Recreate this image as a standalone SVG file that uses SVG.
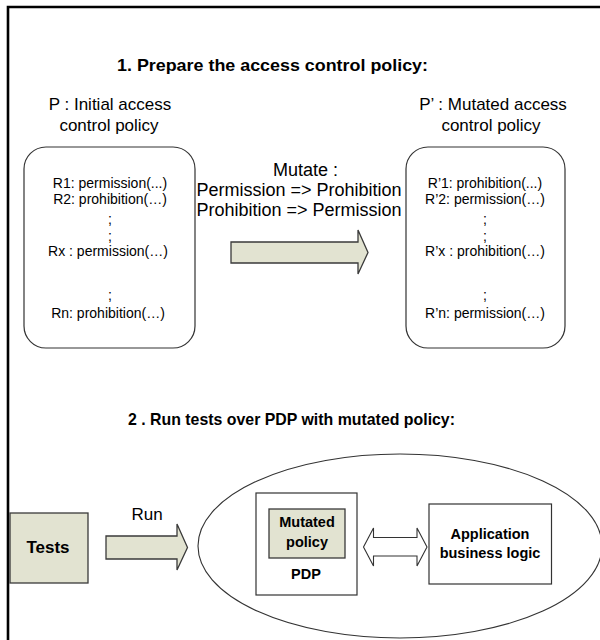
<svg xmlns="http://www.w3.org/2000/svg" width="600" height="640" viewBox="0 0 600 640">
<style>
text{font-family:"Liberation Sans",Arial,sans-serif;fill:#000}
.t{font-size:17px;font-weight:bold}
.c{font-size:17px;text-anchor:middle}
.m{font-size:18px}
.r{font-size:14px;text-anchor:middle}
.b{font-size:14.5px;font-weight:bold;text-anchor:middle}
.box{fill:#fff;stroke:#333;stroke-width:1.2}
.fill{fill:#e2e3d1;stroke:#3a3a3a;stroke-width:1.3}
.arr{fill:#e2e3d1;stroke:#3a3a3a;stroke-width:1.3;stroke-linejoin:miter}
.darr{fill:#fff;stroke:#333;stroke-width:1.1}
</style>
<rect width="600" height="640" fill="#fff"/>
<path d="M8,640 V7 H600" fill="none" stroke="#000" stroke-width="2.6"/>

<text class="t" x="117" y="71" textLength="311" lengthAdjust="spacingAndGlyphs">1. Prepare the access control policy:</text>

<g id="initial-policy">
<text class="c" x="110" y="110">P : Initial access</text>
<text class="c" x="109" y="131">control policy</text>
<rect class="box" x="24" y="147" width="171" height="201" rx="22"/>
<text class="r" x="110" y="188">R1: permission(...)</text>
<text class="r" x="110" y="204">R2: prohibition(…)</text>
<text class="r" x="110" y="224">;</text>
<text class="r" x="110" y="241">;</text>
<text class="r" x="108" y="256">Rx : permission(…)</text>
<text class="r" x="110" y="300">;</text>
<text class="r" x="108" y="318">Rn: prohibition(…)</text>
</g>

<g id="mutated-policy">
<text class="c" x="493" y="110">P’ : Mutated access</text>
<text class="c" x="491" y="131">control policy</text>
<rect class="box" x="406" y="147" width="159" height="201" rx="22"/>
<text class="r" x="485" y="188">R’1: prohibition(...)</text>
<text class="r" x="485" y="204">R’2: permission(…)</text>
<text class="r" x="485" y="224">;</text>
<text class="r" x="485" y="241">;</text>
<text class="r" x="485" y="256">R’x : prohibition(…)</text>
<text class="r" x="485" y="300">;</text>
<text class="r" x="485" y="318">R’n: permission(…)</text>
</g>

<g id="mutate-label">
<text class="m" x="273" y="176">Mutate :</text>
<text class="m" x="299" y="196" text-anchor="middle">Permission =&gt; Prohibition</text>
<text class="m" x="299" y="216" text-anchor="middle">Prohibition =&gt; Permission</text>
</g>

<text class="t" x="128" y="425" textLength="327" lengthAdjust="spacingAndGlyphs">2 . Run tests over PDP with mutated policy:</text>

<g id="tests">
<rect class="fill" x="10" y="513" width="78" height="70"/>
<text class="b" x="48" y="553" style="font-size:17px">Tests</text>
</g>

<text class="c" x="147" y="520">Run</text>

<g id="system">
<ellipse cx="400" cy="546" rx="202" ry="92" fill="none" stroke="#333" stroke-width="1.1"/>
</g>

<g id="pdp">
<rect class="box" x="256" y="493" width="101" height="102"/>
<rect class="fill" x="269" y="509" width="76" height="49"/>
<text class="b" x="307" y="527">Mutated</text>
<text class="b" x="307" y="547">policy</text>
<text class="b" x="306" y="579">PDP</text>
</g>

<g id="app">
<rect class="box" x="429" y="504" width="122.5" height="80"/>
<text class="b" x="490" y="539">Application</text>
<text class="b" x="490" y="558">business logic</text>
</g>

<g id="connectors">
<polygon class="arr" points="231,242 358,242 358,230 368,252.5 358,274 358,263 231,263"/>
<polygon class="arr" points="106,536 177,536 177,524 187.5,547.5 177,570 177,559 106,559"/>
<polygon class="darr" points="363.5,547 373.5,528 373.5,537.5 417,537.5 417,528 427,547 417,566 417,556 373.5,556 373.5,566"/>
</g>
</svg>
